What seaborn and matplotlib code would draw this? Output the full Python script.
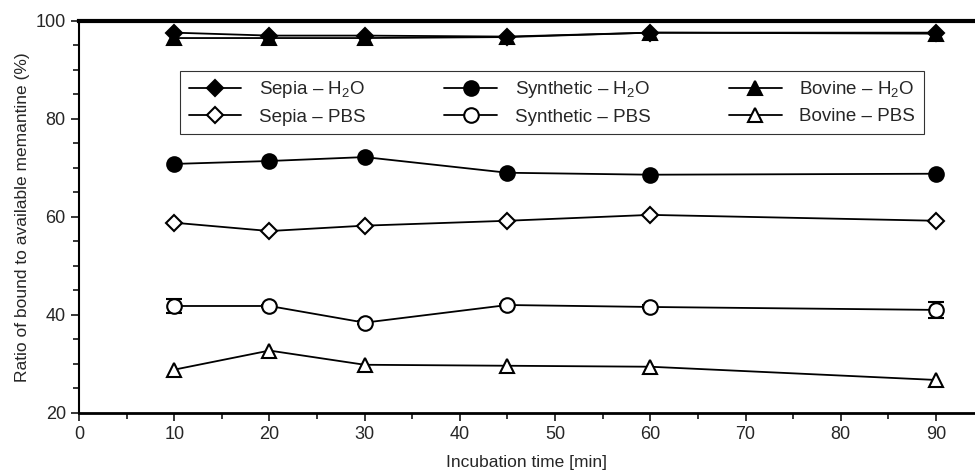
import matplotlib
matplotlib.use("Agg")
import matplotlib.pyplot as plt
import seaborn as sns
import pandas as pd
from matplotlib.ticker import MultipleLocator

# Data
times = [10, 20, 30, 45, 60, 90]
sepia_h2o = [97.6, 97.0, 97.0, 96.8, 97.6, 97.6]
synthetic_h2o = [70.8, 71.4, 72.2, 69.0, 68.6, 68.8]
bovine_h2o = [96.5, 96.5, 96.5, 96.7, 97.6, 97.4]
sepia_pbs = [58.8, 57.1, 58.2, 59.2, 60.4, 59.2]
synthetic_pbs = [41.8, 41.8, 38.4, 42.0, 41.6, 41.0]
bovine_pbs = [28.8, 32.7, 29.8, 29.6, 29.4, 26.7]
synthetic_pbs_err = [1.4, 0.3, 0.3, 0.3, 0.3, 1.6]

series = [
    ("Sepia – H$_2$O", sepia_h2o, "D", True, None),
    ("Sepia – PBS", sepia_pbs, "D", False, None),
    ("Synthetic – H$_2$O", synthetic_h2o, "o", True, None),
    ("Synthetic – PBS", synthetic_pbs, "o", False, synthetic_pbs_err),
    ("Bovine – H$_2$O", bovine_h2o, "^", True, None),
    ("Bovine – PBS", bovine_pbs, "^", False, None),
]

sns.set_style("ticks")
plt.rcParams['font.family'] = ['Liberation Sans', 'DejaVu Sans']
plt.rcParams['mathtext.fontset'] = 'custom'
plt.rcParams['mathtext.rm'] = 'Liberation Sans'

fig = plt.figure(figsize=(9.75, 4.75), dpi=100)
ax = fig.add_axes([0.081, 0.131, 0.919, 0.825])

for label, vals, mk, filled, err in series:
    df = pd.DataFrame({"time": times, "value": vals})
    fc = "black" if filled else "white"
    ms = 8.5 if mk == "D" else 10.5
    if err is not None:
        ax.errorbar(times, vals, yerr=err, fmt="none", ecolor="black",
                    elinewidth=1.3, capsize=6, capthick=1.5, zorder=2)
    sns.lineplot(data=df, x="time", y="value", ax=ax, color="black",
                 linewidth=1.3, marker=mk, markersize=ms, markerfacecolor=fc,
                 markeredgecolor="black", markeredgewidth=1.5, label=label,
                 zorder=3)

ax.set_xlim(0, 94.1)
ax.set_ylim(20, 100)
ax.xaxis.set_major_locator(MultipleLocator(10))
ax.xaxis.set_minor_locator(MultipleLocator(5))
ax.yaxis.set_major_locator(MultipleLocator(20))
ax.yaxis.set_minor_locator(MultipleLocator(5))
ax.tick_params(which="major", length=6, width=1.3, labelsize=13, direction="out")
ax.tick_params(which="minor", length=4, width=1.3, direction="out")

ax.spines["right"].set_visible(False)
ax.spines["top"].set_linewidth(3)
ax.spines["left"].set_linewidth(1.5)
ax.spines["bottom"].set_linewidth(2)
for s in ax.spines.values():
    s.set_color("black")

ax.set_xlabel("Incubation time [min]", fontsize=12.5, labelpad=9)
ax.set_ylabel("Ratio of bound to available memantine (%)", fontsize=12.5)

leg = ax.legend(ncol=3, loc="upper left", bbox_to_anchor=(0.113, 0.872),
                fontsize=13.5, frameon=True, fancybox=False, edgecolor="black",
                handlelength=2.8, columnspacing=4.2, labelspacing=0.45,
                borderpad=0.45, handletextpad=0.95, borderaxespad=0)
leg.get_frame().set_linewidth(0.8)

plt.savefig("out.png", dpi=100)
plt.close()
